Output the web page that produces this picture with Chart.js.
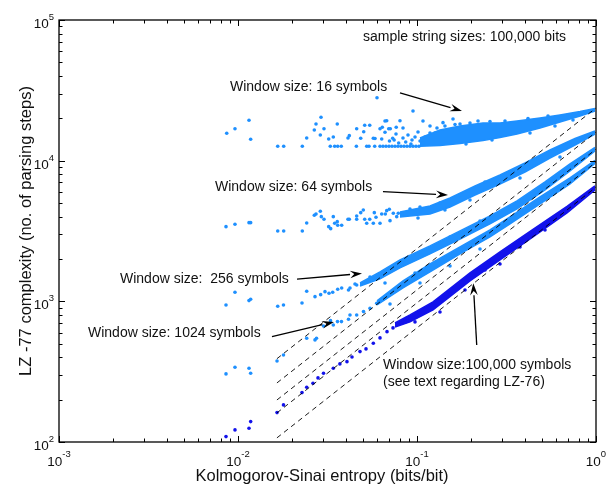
<!DOCTYPE html>
<html><head><meta charset="utf-8">
<script src="https://cdn.jsdelivr.net/npm/chart.js@4.4.0/dist/chart.umd.min.js"></script>
<style>html,body{margin:0;padding:0;background:#fff}</style>
</head><body>
<canvas id="c" width="616" height="495"></canvas>
<script>
// ---------- tick labels ----------
const xTicks = [0.001, 0.01, 0.1, 1];
const xTickLabels = [['10','-3'],['10','-2'],['10','-1'],['10','0']];
const yTicks = [100, 1000, 10000, 100000];
const yTickLabels = [['10','2'],['10','3'],['10','4'],['10','5']];
const xTitle = 'Kolmogorov-Sinai entropy (bits/bit)';
const yTitle = 'LZ -77 complexity (no. of parsing steps)';

// ---------- series: window 16 ----------
const w16Scatter = [[0.00865,15670],[0.00962,16880],[0.01152,19370],[0.01177,14190],[0.01667,12650],[0.018,12650],[0.02287,12650],[0.0242,14500],[0.02669,16530],[0.02728,18230],[0.02909,20350],[0.02883,15230],[0.03023,16880],[0.03211,14260],[0.03278,12650],[0.03407,14730],[0.03468,12650],[0.03586,18230],[0.03606,12650],[0.03776,12650],[0.04116,14500],[0.04186,15060],[0.04603,16880],[0.04585,12650],[0.04848,14430],[0.05038,16070],[0.05103,17850],[0.05443,17850],[0.05236,12650],[0.05393,12650],[0.05701,14430],[0.05827,14360],[0.05804,12650],[0.06214,16880],[0.064,17280],[0.06351,14260],[0.06626,15910],[0.06772,19240],[0.06949,16880],[0.07093,16880],[0.07315,14430],[0.07633,15480],[0.07655,17280],[0.05978,28040],
 [0.06214,12650],[0.06457,12650],[0.06712,12650],[0.06977,12650],[0.07251,12650],[0.07536,12650],[0.07831,12650],[0.08139,12650],[0.08459,12650],[0.08791,12650],[0.09138,12650],[0.09499,12650],[0.09872,12650],[0.1026,12650],
 [0.08352,17080],[0.08906,15230],[0.09378,14040],[0.1013,16000],[0.1108,14730],[0.1182,17640],[0.126,15740],[0.1397,18630],[0.1589,19790],[0.1739,18230],[0.09499,22550],[0.108,19150],[0.08035,19240],[0.06626,19150],
 [0.0702,13800],[0.0745,14040],[0.079,13360],[0.0835,14500],[0.0865,13580],[0.0925,13140],[0.0975,14730],[0.104,13800],[0.108,13360],
 [0.1433,17640],[0.1631,18090],[0.1977,18530],[0.2192,19150],[0.2557,18990],[0.3102,19150],[0.417,19950],[0.5393,20790],[0.1878,13140],[0.2624,14040],[0.4279,15740],[0.59,17640],[0.7437,19470],[0.1182,15740],[0.1293,17080]];
const w16Upper = [[0.1039,14500],[0.1344,16530],[0.1739,17640],[0.2337,18530],[0.2908,18530],[0.362,19150],[0.4866,20110],[0.6292,21130],[0.8141,22370],[0.987,23500]];
const w16Lower = [[0.1039,12650],[0.1344,12820],[0.1739,13250],[0.2337,13920],[0.2908,14620],[0.362,15480],[0.4866,17080],[0.6292,18840],[0.8141,20790],[0.987,22550]];

// ---------- series: window 64 ----------
const w64Scatter = [[0.00857,3396],[0.00962,3532],[0.01152,3626],[0.01177,3626],[0.01667,3166],[0.018,3166],[0.02287,3166],[0.0242,3607],[0.02669,4090],[0.02728,4180],[0.02883,4368],[0.02921,3999],[0.03023,3833],[0.03211,3396],[0.03295,3287],[0.03407,3999],[0.03468,3590],[0.03586,3685],[0.03606,3474],[0.03795,3474],[0.04116,3833],[0.04186,3833],[0.04603,3833],[0.04603,4046],[0.04848,4269],[0.05012,4461],[0.05103,3833],[0.05236,3590],[0.05443,3833],[0.05701,3590],[0.05775,4269],[0.05901,3960],[0.06214,3590],[0.06351,4180],[0.06652,4180],[0.06772,4411],[0.07004,4513],[0.07067,3746],[0.07373,4228],[0.07703,3999],[0.07861,4228],
 [0.09138,4536],[0.1039,4688],[0.1344,5004],[0.1739,5704],[0.2399,7058],[0.3309,8310],[0.4562,10280],[0.1013,3915],[0.1433,4461],[0.1977,5257],[0.3762,7534],[0.6292,10620]];
const w64Upper = [[0.08035,4318],[0.1182,4764],[0.1529,5431],[0.2109,6610],[0.2908,7914],[0.4012,9632],[0.5534,11910],[0.7634,14380],[0.987,16260]];
const w64Lower = [[0.08035,3980],[0.1182,4180],[0.1529,4688],[0.2109,5704],[0.2908,6830],[0.4012,8310],[0.5534,10450],[0.7634,12930],[0.987,15480]];

// ---------- series: window 256 ----------
const w256Scatter = [[0.00857,942.8],[0.00962,1161],[0.01152,1012],[0.01177,1035],[0.01667,923],[0.01795,942.8],[0.02278,974.1],[0.0242,1180],[0.02693,1080],[0.02896,1116],[0.03062,1172],[0.03224,1142],[0.03381,1161],[0.03606,1219],[0.03795,1245],[0.04143,1205],[0.04603,1308],
 [0.04223,1245],[0.04503,1329],[0.05463,1491],[0.07251,1728],[0.1039,2244],[0.1529,2869],[0.2249,3727],[0.06626,1351],[0.09745,1591],[0.1433,2034],[0.2908,3434]];
const w256Upper = [[0.04804,1351],[0.06214,1618],[0.08035,1969],[0.1182,2476],[0.1739,3166],[0.2557,4046],[0.362,5171],[0.519,7058],[0.7157,9475],[0.987,12410]];
const w256Lower = [[0.04804,1287],[0.06214,1443],[0.08035,1728],[0.1182,2172],[0.1739,2776],[0.2557,3549],[0.362,4536],[0.519,6192],[0.7157,8450],[0.987,11720]];

// ---------- series: window 1024 ----------
const w1024Scatter = [[0.00857,304.8],[0.00962,340.1],[0.01152,334.6],[0.01177,308.3],[0.01652,377],[0.01795,415.9],[0.0242,546.7],[0.02693,531.8],[0.02745,546.7],[0.03004,668.6],[0.03287,729],[0.03407,679.6],[0.03596,717.4],[0.03785,717.4],[0.04143,746],[0.04223,800.5],[0.04603,800.5],[0.05025,845],[0.05463,893.4],[0.05956,969],
 [0.06626,1057],[0.09745,1467],[0.1433,1969],[0.2109,2601],[0.07067,958.3],[0.1039,1351],[0.1529,1785],[0.2249,2357]];
const w1024Upper = [[0.05978,1006],[0.08352,1396],[0.1182,1844],[0.1739,2436],[0.2557,3217],[0.3309,3980],[0.4866,5521],[0.7157,7534],[0.987,10030]];
const w1024Lower = [[0.05978,942.8],[0.08352,1245],[0.1182,1618],[0.1739,2172],[0.2557,2869],[0.3309,3549],[0.4866,4922],[0.7157,6830],[0.987,9553]];

// ---------- series: window 100,000 ----------
const w1e5Scatter = [[0.00857,109.2],[0.00962,121.9],[0.01152,125.3],[0.01177,139.6],[0.01652,161.8],[0.01795,183.5],[0.02278,224.5],[0.0242,245.2],[0.02624,261.8],[0.02798,285.5],[0.03004,308.3],[0.03407,334.6],[0.03709,359.1],[0.04063,372.7],[0.04334,402.5],[0.04804,439.1],[0.05189,458.9],[0.05701,503.8],[0.06214,549.5],[0.068,609],[0.07344,647.2],[0.08757,758.6],
 [0.0857,713.9],[0.1039,827],[0.1529,1129],[0.2399,1672],[0.3762,2436],[0.09745,713.9],[0.1344,840.7],[0.1854,1205],[0.2908,1844],[0.519,3217]];
const w1e5Upper = [[0.07536,702.2],[0.09138,800.5],[0.1229,990],[0.1977,1591],[0.2908,2244],[0.4446,3244],[0.6887,4727],[0.987,6610]];
const w1e5Lower = [[0.07536,657.8],[0.09138,713.9],[0.1229,868.6],[0.1977,1396],[0.2908,1969],[0.4446,2869],[0.6887,4249],[0.987,6192]];

// ---------- dashed reference lines ----------
const boundA = [[0.0165,391],[1,23700]];
const boundB = [[0.0165,263],[1,15950]];
const boundC = [[0.0165,199],[1,12070]];
const boundD = [[0.0165,161],[1,9760]];
const boundE = [[0.0165,107],[1,6480]];

// ---------- annotations ----------
const noteTexts = ['sample string sizes: 100,000 bits','Window size: 16 symbols','Window size: 64 symbols','Window size:  256 symbols','Window size: 1024 symbols','Window size:100,000 symbols','(see text regarding LZ-76)'];
const notePos = [[0.0499,75700],[0.009022,33400],[0.007438,6503],[0.002192,1443],[0.001452,596.3],[0.06457,353.2],[0.06457,264.4]];
const arrowPos = [[[0.08035,30280],[0.1784,22550]],[[0.06457,6021],[0.149,5704]],[[0.02137,1436],[0.04929,1579]],[[0.01548,561.2],[0.03438,713.9]],[[0.2156,489.8],[0.2063,1344]]];

const LIGHT = 'rgb(30,144,255)';
const DARK = 'rgb(18,18,235)';
const pts = a => a.map(p => ({x:p[0], y:p[1]}));

function scatterDS(arr, color){
  return {type:'scatter', data:pts(arr), backgroundColor:color, borderWidth:0, pointRadius:1.8, pointHoverRadius:0};
}
function bandDS(upper, lower, color){
  return [
    {type:'line', data:pts(upper), borderColor:color, borderWidth:1.5, pointRadius:0, fill:false, tension:0},
    {type:'line', data:pts(lower), borderColor:color, borderWidth:1.5, pointRadius:0, fill:'-1', backgroundColor:color, tension:0}
  ];
}
function dashDS(arr){
  return {type:'line', data:pts(arr), borderColor:'#000', borderWidth:0.9, borderDash:[5,4], pointRadius:0, fill:false};
}

const datasets = [
  dashDS(boundA), dashDS(boundB), dashDS(boundC), dashDS(boundD), dashDS(boundE),
  scatterDS(w16Scatter, LIGHT), ...bandDS(w16Upper, w16Lower, LIGHT),
  scatterDS(w64Scatter, LIGHT), ...bandDS(w64Upper, w64Lower, LIGHT),
  scatterDS(w256Scatter, LIGHT), ...bandDS(w256Upper, w256Lower, LIGHT),
  scatterDS(w1024Scatter, LIGHT), ...bandDS(w1024Upper, w1024Lower, LIGHT),
  scatterDS(w1e5Scatter, DARK), ...bandDS(w1e5Upper, w1e5Lower, DARK)
];

const FONT = '"Liberation Sans", Arial, Helvetica, sans-serif';

const decor = {
  id:'decor',
  afterDraw(chart){
    const ctx = chart.ctx, a = chart.chartArea;
    const sx = chart.scales.x, sy = chart.scales.y;
    ctx.save();
    ctx.strokeStyle = '#000'; ctx.lineWidth = 1.3;
    ctx.strokeRect(a.left, a.top, a.right - a.left, a.bottom - a.top);
    ctx.lineWidth = 1;
    ctx.beginPath();
    for (let d = 0; d < xTicks.length; d++){
      for (let m = 1; m <= 9; m++){
        const v = xTicks[d]*m; if (v > xTicks[xTicks.length-1]*1.0001) break;
        const px = Math.round(sx.getPixelForValue(v)) + 0.5;
        const L = m === 1 ? 6 : 3.5;
        ctx.moveTo(px, a.bottom); ctx.lineTo(px, a.bottom - L);
        ctx.moveTo(px, a.top); ctx.lineTo(px, a.top + L);
      }
    }
    for (let d = 0; d < yTicks.length; d++){
      for (let m = 1; m <= 9; m++){
        const v = yTicks[d]*m; if (v > yTicks[yTicks.length-1]*1.0001) break;
        const py = Math.round(sy.getPixelForValue(v)) + 0.5;
        const L = m === 1 ? 6 : 3.5;
        ctx.moveTo(a.left, py); ctx.lineTo(a.left + L, py);
        ctx.moveTo(a.right, py); ctx.lineTo(a.right - L, py);
      }
    }
    ctx.stroke();
    ctx.fillStyle = '#111';
    const baseF = '13.5px ' + FONT, expF = '9.5px ' + FONT;
    xTicks.forEach((v, i) => {
      const [b, e] = xTickLabels[i];
      ctx.font = baseF; const wb = ctx.measureText(b).width;
      ctx.font = expF; const we = ctx.measureText(e).width;
      const cx = sx.getPixelForValue(v);
      const x0 = cx - (wb + we)/2;
      ctx.textBaseline = 'alphabetic'; ctx.textAlign = 'left';
      ctx.font = baseF; ctx.fillText(b, x0, a.bottom + 24);
      ctx.font = expF; ctx.fillText(e, x0 + wb, a.bottom + 15);
    });
    yTicks.forEach((v, i) => {
      const [b, e] = yTickLabels[i];
      ctx.font = baseF; const wb = ctx.measureText(b).width;
      ctx.font = expF; const we = ctx.measureText(e).width;
      const cy = sy.getPixelForValue(v);
      const x0 = a.left - 5 - we - wb;
      ctx.textBaseline = 'alphabetic'; ctx.textAlign = 'left';
      ctx.font = baseF; ctx.fillText(b, x0, cy + 8);
      ctx.font = expF; ctx.fillText(e, x0 + wb, cy);
    });
    ctx.font = '16.5px ' + FONT; ctx.textAlign = 'center'; ctx.textBaseline = 'middle';
    ctx.fillText(xTitle, 322, a.bottom + 34);
    ctx.save();
    ctx.translate(26, (a.top + a.bottom)/2);
    ctx.rotate(-Math.PI/2);
    ctx.fillText(yTitle, 0, 0);
    ctx.restore();
    ctx.font = '14px ' + FONT; ctx.textAlign = 'left'; ctx.textBaseline = 'middle';
    noteTexts.forEach((t, i) => {
      ctx.fillText(t, sx.getPixelForValue(notePos[i][0]), sy.getPixelForValue(notePos[i][1]));
    });
    ctx.strokeStyle = '#000'; ctx.fillStyle = '#000'; ctx.lineWidth = 1.3;
    arrowPos.forEach(([p, q]) => {
      const x1 = sx.getPixelForValue(p[0]), y1 = sy.getPixelForValue(p[1]);
      const x2 = sx.getPixelForValue(q[0]), y2 = sy.getPixelForValue(q[1]);
      const ang = Math.atan2(y2 - y1, x2 - x1);
      const L = 12, W = 3.8;
      const bx = x2 - L*Math.cos(ang), by = y2 - L*Math.sin(ang);
      ctx.beginPath(); ctx.moveTo(x1, y1); ctx.lineTo(bx, by); ctx.stroke();
      ctx.beginPath();
      ctx.moveTo(x2, y2);
      ctx.lineTo(bx + W*Math.sin(ang), by - W*Math.cos(ang));
      ctx.lineTo(bx + 0.35*L*Math.cos(ang), by + 0.35*L*Math.sin(ang));
      ctx.lineTo(bx - W*Math.sin(ang), by + W*Math.cos(ang));
      ctx.closePath(); ctx.fill();
    });
    ctx.restore();
  }
};

new Chart(document.getElementById('c'), {
  type:'scatter',
  data:{datasets},
  options:{
    responsive:false, animation:false, devicePixelRatio:1,
    layout:{padding:{left:59, top:20, right:20, bottom:53}},
    plugins:{legend:{display:false}, tooltip:{enabled:false}},
    events:[],
    scales:{
      x:{type:'logarithmic', min:0.001, max:1, display:false},
      y:{type:'logarithmic', min:100, max:100000, display:false}
    }
  },
  plugins:[decor]
});
</script>
</body></html>
